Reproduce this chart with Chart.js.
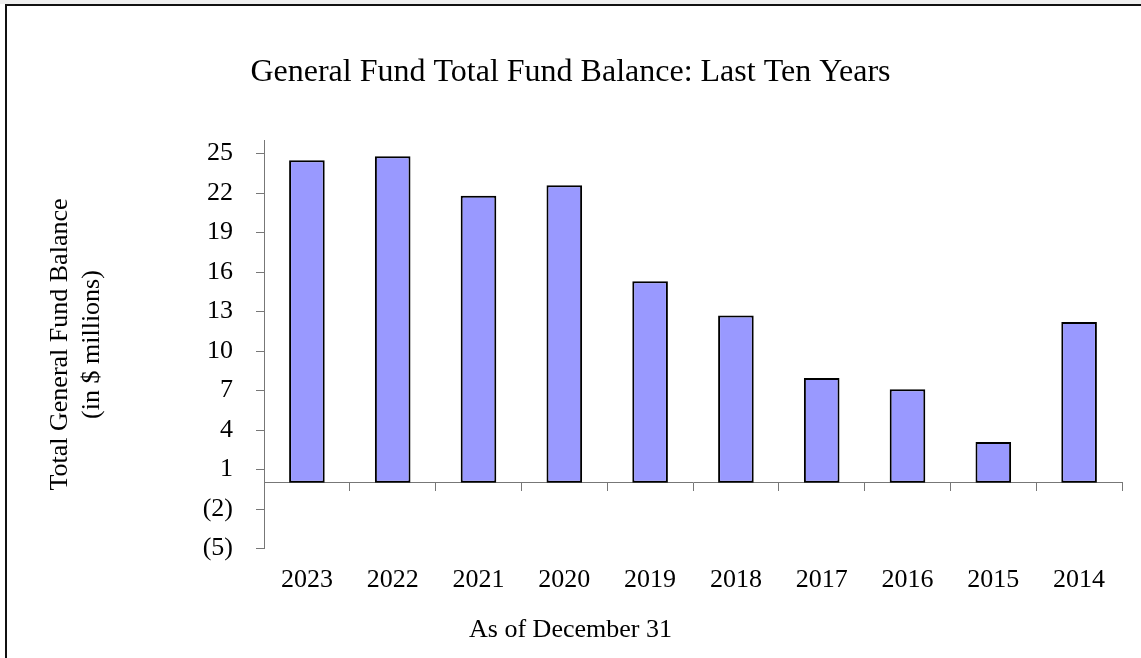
<!DOCTYPE html>
<html>
<head>
<meta charset="utf-8">
<title>General Fund Total Fund Balance</title>
<script src="https://cdn.jsdelivr.net/npm/chart.js@4/dist/chart.umd.min.js"></script>
<style>
  html, body { margin: 0; padding: 0; background: #fff; overflow: hidden; }
  #strip { position: absolute; left: 0; top: 0; width: 1141px; height: 4px; background: #efefef; }
  #frame { position: absolute; left: 5px; top: 4px; width: 1200px; height: 700px;
           border-left: 2px solid #111; border-top: 2px solid #111; }
  #wrap { position: absolute; left: 0; top: 0; width: 1141px; height: 658px; }
</style>
</head>
<body>
<div id="strip"></div>
<div id="frame"></div>
<div id="wrap"><canvas id="chart"></canvas></div>
<script>
var years = ['2023', '2022', '2021', '2020', '2019', '2018', '2017', '2016', '2015', '2014'];
// fund balance, $ millions
var balances = [24.5, 24.8, 21.8, 22.6, 15.3, 12.7, 7.95, 7.1, 3.1, 12.2];
var yTicks = [-5, -2, 1, 4, 7, 10, 13, 16, 19, 22, 25];

var serif = '"Liberation Serif", "Times New Roman", serif';
var axisGray = '#777';

function money(v) {
  return v < 0 ? '(' + Math.abs(v) + ')' : String(v);
}

var ctx = document.getElementById('chart').getContext('2d');
var chart = new Chart(ctx, {
  type: 'bar',
  data: {
    labels: years,
    datasets: [{
      data: balances,
      backgroundColor: '#9999ff',
      borderColor: '#000',
      borderWidth: 2,
      borderSkipped: false,
      barPercentage: 0.415,
      categoryPercentage: 1.0,
      xAxisID: 'x'
    }]
  },
  options: {
    responsive: true,
    maintainAspectRatio: false,
    animation: false,
    layout: { padding: 0 },
    plugins: {
      legend: { display: false },
      tooltip: { enabled: false },
      title: {
        display: true,
        text: 'General Fund Total Fund Balance: Last Ten Years',
        color: '#000',
        font: { family: serif, size: 32, weight: 'normal' },
        padding: { top: 53, bottom: 49 }
      },
      subtitle: {
        display: true,
        position: 'bottom',
        text: 'As of December 31',
        color: '#000',
        font: { family: serif, size: 26, weight: 'normal' },
        padding: { top: 3, bottom: 12 }
      }
    },
    scales: {
      // zero line with the category dividers
      x: {
        type: 'category',
        position: { y: 0 },
        offset: true,
        grid: { display: true, drawOnChartArea: false, drawTicks: true, tickLength: 8, color: axisGray, offset: true },
        border: { display: true, color: axisGray, width: 1 },
        ticks: { display: false }
      },
      // year labels along the bottom
      x2: {
        type: 'category',
        position: 'bottom',
        offset: true,
        grid: { display: false, drawTicks: false },
        border: { display: false },
        ticks: { color: '#000', padding: 16, maxRotation: 0, font: { family: serif, size: 26 } }
      },
      y: {
        min: -5,
        max: 26,
        grid: { display: true, drawOnChartArea: false, drawTicks: true, tickLength: 8, color: axisGray },
        border: { display: true, color: axisGray, width: 1 },
        ticks: {
          color: '#000',
          padding: 23,
          font: { family: serif, size: 26 },
          callback: function(v) { return money(v); }
        },
        afterBuildTicks: function(scale) {
          scale.ticks = yTicks.map(function(v) { return { value: v }; });
        },
        afterFit: function(scale) {
          scale.width = 264;
        },
        title: {
          display: true,
          text: ['Total General Fund Balance', '(in $ millions)'],
          color: '#000',
          font: { family: serif, size: 26, lineHeight: 1.2 },
          padding: { top: 45 }
        }
      },
      // empty margin on the right so the titles stay centred on the page
      yR: {
        type: 'linear',
        position: 'right',
        grid: { display: false },
        border: { display: false },
        ticks: { display: false },
        afterFit: function(scale) {
          scale.width = 19;
        }
      }
    }
  }
});
</script>
</body>
</html>
